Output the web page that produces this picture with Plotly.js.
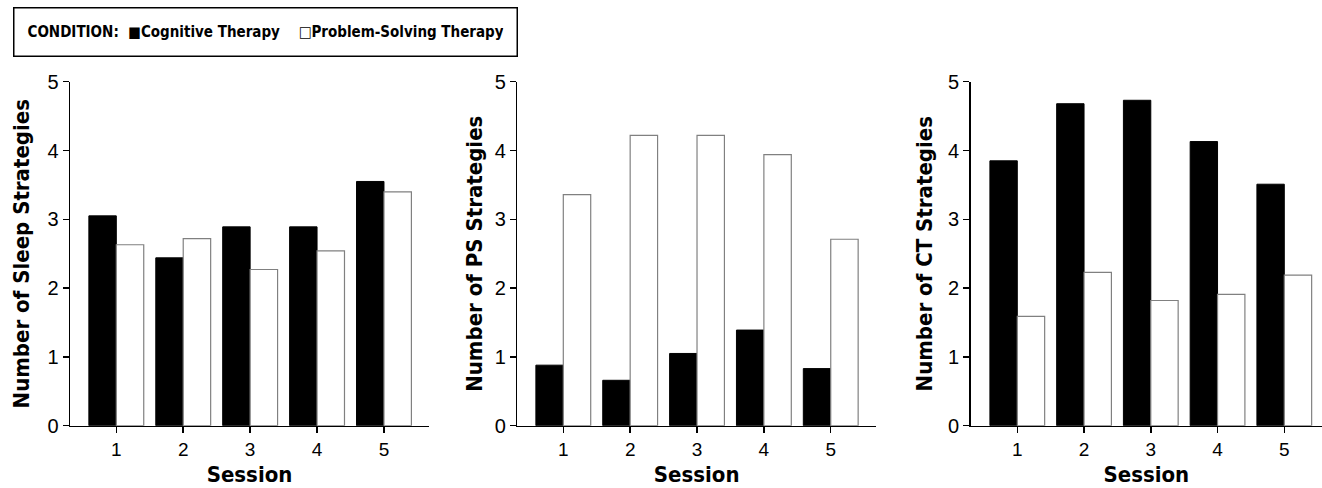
<!DOCTYPE html>
<html>
<head>
<meta charset="utf-8">
<script src="https://cdn.plot.ly/plotly-3.0.1.min.js"></script>
<style>html,body{margin:0;padding:0;background:#fff;}#chart{width:1322px;height:488px;}</style>
</head>
<body>
<div id="chart"></div>
<script>
// ---- data ----
const sessions = [1, 2, 3, 4, 5];
const seriesNames = ["Cognitive Therapy", "Problem-Solving Therapy"];
const legendLabel = "CONDITION:";
const xTitle = "Session";
const yTitles = ["Number of Sleep Strategies", "Number of PS Strategies", "Number of CT Strategies"];

const sleepCT = [3.05, 2.44, 2.89, 2.89, 3.55];
const sleepPST = [2.63, 2.72, 2.27, 2.54, 3.40];
const psCT = [0.88, 0.66, 1.05, 1.39, 0.83];
const psPST = [3.36, 4.22, 4.22, 3.94, 2.71];
const ctCT = [3.85, 4.68, 4.73, 4.13, 3.51];
const ctPST = [1.59, 2.23, 1.82, 1.91, 2.19];

const yTickVals = [0, 1, 2, 3, 4, 5];

// ---- styling ----
const FONT = "DejaVu Sans Condensed, Liberation Sans Narrow, Arial Narrow, sans-serif";
const NUMFONT = "Liberation Sans, Arial, sans-serif";
const W = 1322, H = 488;
const panels = [
  {ct: sleepCT, pst: sleepPST, dom: [70, 429], range: [0.308, 5.673], title: yTitles[0], standoff: 11},
  {ct: psCT, pst: psPST, dom: [517.3, 876], range: [0.312, 5.677], title: yTitles[1], standoff: 6},
  {ct: ctCT, pst: ctPST, dom: [970.7, 1322], range: [0.302, 5.565], title: yTitles[2], standoff: 9}
];
const yDom = [(H - 425.7) / H, (H - 81.7) / H];

const data = [];
const layout = {
  width: W, height: H,
  margin: {l: 0, r: 0, t: 0, b: 0, pad: 0},
  paper_bgcolor: "#fff", plot_bgcolor: "#fff",
  barmode: "group", bargap: 0.18, bargroupgap: 0,
  showlegend: false,
  font: {family: FONT, color: "#000"},
  annotations: []
};

panels.forEach((p, i) => {
  const n = i === 0 ? "" : String(i + 1);
  data.push({
    type: "bar", x: sessions, y: p.ct, name: seriesNames[0],
    xaxis: "x" + n, yaxis: "y" + n,
    marker: {color: "#000", line: {color: "#000", width: 1}}
  });
  data.push({
    type: "bar", x: sessions, y: p.pst, name: seriesNames[1],
    xaxis: "x" + n, yaxis: "y" + n,
    marker: {color: "#fff", line: {color: "#808080", width: 1.2}}
  });
  layout["xaxis" + n] = {
    domain: [p.dom[0] / W, p.dom[1] / W], anchor: "y" + n,
    range: p.range, tickvals: sessions, ticktext: sessions.map(String),
    showgrid: false, zeroline: false, showline: true, linecolor: "#000", linewidth: 1.5,
    ticks: "outside", ticklen: 6, tickwidth: 1.5, tickcolor: "#000",
    tickfont: {family: NUMFONT, size: 19, color: "#000"},
    title: {text: xTitle, font: {family: FONT, size: 22, weight: "bold", color: "#000"}, standoff: 7},
    fixedrange: true
  };
  layout["yaxis" + n] = {
    domain: yDom, anchor: "x" + n,
    range: [0, 5], tickvals: yTickVals, ticktext: yTickVals.map(String),
    showgrid: false, zeroline: false, showline: true, linecolor: "#000", linewidth: 1.5,
    ticks: "outside", ticklen: 6, tickwidth: 1.5, tickcolor: "#000",
    tickfont: {family: NUMFONT, size: 20, color: "#000"},
    title: {text: p.title, font: {family: FONT, size: 22, weight: "bold", color: "#000"}, standoff: p.standoff},
    fixedrange: true
  };
});

const NB = "\u00A0";
layout.annotations.push({
  xref: "paper", yref: "paper",
  x: 12.7 / W, y: 1 - 7.3 / H, xanchor: "left", yanchor: "top",
  text: "<b>" + legendLabel + NB + NB + "\u25A0" + seriesNames[0] + NB + NB + NB + NB + "\u25A1" + seriesNames[1] + "</b>",
  showarrow: false, align: "left",
  width: 476, height: 21, borderpad: 13,
  bordercolor: "#000", borderwidth: 1.5, bgcolor: "#fff",
  font: {family: FONT, size: 15, color: "#000"}
});

Plotly.newPlot("chart", data, layout, {staticPlot: true});
</script>
</body>
</html>
